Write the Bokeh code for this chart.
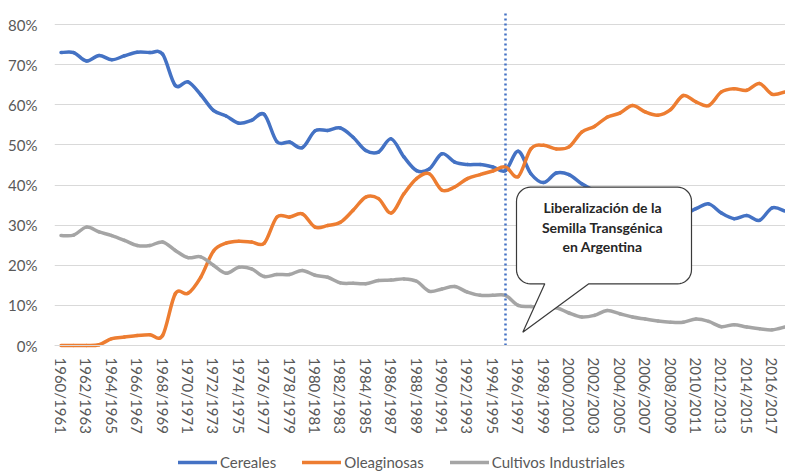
import numpy as np
from bokeh.plotting import figure
from bokeh.models import Range1d, FixedTicker, NumeralTickFormatter, Legend, LegendItem
from bokeh.core.properties import value
from bokeh.embed import file_html
from bokeh.resources import INLINE

# ---------------- data ----------------
seasons = [f"{y}/{y + 1}" for y in range(1960, 2018)]

cereales = [73.0, 73.0, 70.9, 72.3, 71.2, 72.2, 73.1, 73.0, 72.6, 64.8,
            65.7, 62.5, 58.6, 57.2, 55.4, 56.1, 57.6, 50.8, 50.7, 49.3,
            53.5, 53.6, 54.2, 51.9, 48.6, 48.2, 51.5, 47.0, 43.6, 44.0,
            47.8, 45.7, 45.1, 45.1, 44.5, 43.6, 48.4, 42.8, 40.6, 43.0,
            42.6, 40.3, 38.5, 35.8, 35.0, 34.0, 35.6, 36.6, 35.8, 33.0,
            34.1, 35.3, 33.0, 31.6, 32.4, 31.2, 34.3, 33.5]

oleaginosas = [0.0, 0.0, 0.0, 0.2, 1.7, 2.1, 2.5, 2.7, 2.5, 12.9,
               13.0, 17.0, 23.5, 25.5, 26.0, 25.8, 25.5, 32.0, 32.0, 32.8,
               29.5, 29.9, 30.7, 33.7, 37.0, 36.6, 33.0, 37.8, 41.6, 42.8,
               38.7, 39.5, 41.6, 42.6, 43.5, 44.5, 42.1, 49.0, 49.9, 49.0,
               49.5, 53.2, 54.6, 56.9, 57.9, 59.8, 58.2, 57.4, 58.8, 62.3,
               60.7, 59.8, 63.2, 64.0, 63.6, 65.3, 62.6, 63.2]

industriales = [27.4, 27.5, 29.5, 28.3, 27.4, 26.2, 24.9, 24.9, 25.8, 23.7,
                21.9, 22.1, 20.0, 18.0, 19.5, 19.1, 17.2, 17.7, 17.7, 18.7,
                17.5, 17.0, 15.6, 15.5, 15.4, 16.2, 16.3, 16.6, 16.0, 13.5,
                14.1, 14.7, 13.3, 12.5, 12.5, 12.5, 10.0, 9.7, 9.4, 9.4,
                8.1, 7.1, 7.5, 8.7, 7.9, 7.1, 6.6, 6.1, 5.8, 5.8,
                6.6, 6.0, 4.7, 5.2, 4.6, 4.2, 3.9, 4.6]

series_names = ["Cereales", "Oleaginosas", "Cultivos Industriales"]
y_ticks = [0.0, 0.1, 0.2, 0.3, 0.4, 0.5, 0.6, 0.7, 0.8]
event_index = seasons.index("1995/1996")
callout_lines = ["Liberalización de la", "Semilla Transgénica", "en Argentina"]

# ---------------- layout constants (page pixels) ----------------
W, H = 785, 472
PX0, DX = 60.5, 12.7      # page x of first category, px per category
PY0, DY = 345.0, 401.25   # page y of 0 %, px per 100 %
FRAME_L, FRAME_R, FRAME_T = 54.0, 785.0, 10.0


def dx(px):
    return (px - PX0) / DX


def dy(py):
    return (PY0 - py) / DY


p = figure(width=W, height=H, output_backend="svg", toolbar_location=None,
           x_range=Range1d(dx(FRAME_L), dx(FRAME_R)),
           y_range=Range1d(dy(H), dy(FRAME_T)),
           min_border_left=54, min_border_right=0, min_border_top=10,
           min_border_bottom=0)
p.outline_line_color = None
p.background_fill_color = "white"
p.border_fill_color = "white"

FONT = "Lato"
LABEL_COLOR = "#595959"

# x axis drawn at the 0 % line
p.xaxis.fixed_location = 0
p.xaxis.ticker = FixedTicker(ticks=list(range(0, len(seasons), 2)))
p.xaxis.major_label_overrides = {i: seasons[i] for i in range(0, len(seasons), 2)}
p.xaxis.major_label_orientation = "vertical"
p.xaxis.axis_line_color = "#D9D9D9"
p.xaxis.major_tick_line_color = None
p.xaxis.minor_tick_line_color = None
p.xaxis.major_tick_out = 0
p.xaxis.major_label_standoff = 12
p.xaxis.major_label_text_font = FONT
p.xaxis.major_label_text_font_size = "15px"
p.xaxis.major_label_text_color = LABEL_COLOR

p.yaxis.ticker = FixedTicker(ticks=y_ticks)
p.yaxis.formatter = NumeralTickFormatter(format="0%")
p.yaxis.axis_line_color = None
p.yaxis.major_tick_line_color = None
p.yaxis.minor_tick_line_color = None
p.yaxis.major_tick_out = 0
p.yaxis.major_label_standoff = 17
p.yaxis.major_label_text_font = FONT
p.yaxis.major_label_text_font_size = "15px"
p.yaxis.major_label_text_color = LABEL_COLOR

p.xgrid.visible = False
p.ygrid.ticker = FixedTicker(ticks=y_ticks)
p.ygrid.grid_line_color = "#D9D9D9"
p.ygrid.grid_line_width = 1


def smooth(vals):
    y = np.asarray(vals, dtype=float) / 100.0
    x = np.arange(len(y), dtype=float)
    n = len(y)
    xp = np.concatenate([[x[0]], x, [x[-1]]])
    yp = np.concatenate([[y[0]], y, [y[-1]]])
    i = np.arange(n - 1)
    x0, y0 = x[i], y[i]
    x1, y1 = x[i + 1], y[i + 1]
    cx0 = x0 + (xp[i + 2] - xp[i]) / 6.0
    cy0 = y0 + (yp[i + 2] - yp[i]) / 6.0
    cx1 = x1 - (xp[i + 3] - xp[i + 1]) / 6.0
    cy1 = y1 - (yp[i + 3] - yp[i + 1]) / 6.0
    return dict(x0=x0, y0=y0, x1=x1, y1=y1, cx0=cx0, cy0=cy0, cx1=cx1, cy1=cy1)


colors = ["#4472C4", "#ED7D31", "#A5A5A5"]
renderers = []
for vals, col in zip([cereales, oleaginosas, industriales], colors):
    r = p.bezier(**smooth(vals), line_color=col, line_width=3.5, line_cap="round")
    renderers.append(r)

# vertical dotted event line (from 0 % to the top of the plot)
p.segment(x0=[event_index], y0=[0], x1=[event_index], y1=[dy(FRAME_T)],
          line_color="#4472C4", line_width=2.5, line_dash="2 3")

# callout shape (rounded box with tail)
L, R, T, B, rad = 516.0, 691.0, 186.7, 283.3, 14.0
tail_l, tail_r, tip = 544.3, 588.3, (522.3, 331.7)
pts = [(tail_r, B), (R - rad, B)]


def arc(cx, cy, a0, a1):
    a = np.linspace(a0, a1, 10)
    return [(cx + rad * np.cos(t), cy + rad * np.sin(t)) for t in a]


pts += arc(R - rad, B - rad, np.pi / 2, 0)
pts += [(R, T + rad)]
pts += arc(R - rad, T + rad, 0, -np.pi / 2)
pts += [(L + rad, T)]
pts += arc(L + rad, T + rad, -np.pi / 2, -np.pi)
pts += [(L, B - rad)]
pts += arc(L + rad, B - rad, np.pi, np.pi / 2)
pts += [(tail_l, B), tip, (tail_r, B)]
p.patch([dx(a) for a, b in pts], [dy(b) for a, b in pts], fill_color="white",
        line_color="#3A3A3A", line_width=1.2)

p.text(x=[dx(602)] * 3, y=[dy(206.5), dy(226.5), dy(245.5)], text=callout_lines,
       text_font=value(FONT), text_font_style="bold", text_font_size="14px",
       text_align="center", text_baseline="middle", text_color="#262626")

legend = Legend(items=[LegendItem(label=n, renderers=[r]) for n, r in zip(series_names, renderers)],
                orientation="horizontal", location=(124, 1))
legend.background_fill_alpha = 0
legend.border_line_color = None
legend.padding = 0
legend.margin = 0
legend.spacing = 26
legend.glyph_width = 39
legend.glyph_height = 16
legend.label_height = 16
legend.label_standoff = 3
legend.label_text_font = FONT
legend.label_text_font_size = "15px"
legend.label_text_color = LABEL_COLOR
p.add_layout(legend)

open("out.html", "w").write(file_html(p, INLINE))
